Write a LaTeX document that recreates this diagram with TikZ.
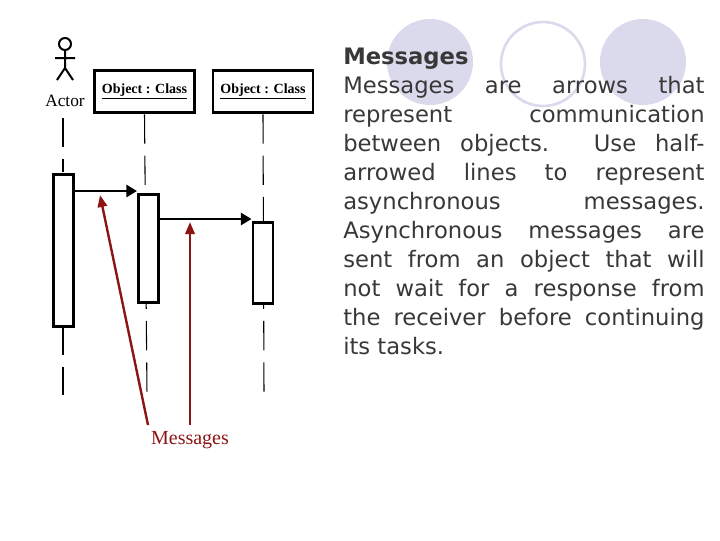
\documentclass[tikz,border=0pt]{standalone}
\usepackage{fontspec}
\newfontfamily\verd{DejaVu Sans}
\newfontfamily\bodyfont{Liberation Serif}
\usetikzlibrary{arrows.meta}
\definecolor{bubble}{RGB}{218,218,236}
\definecolor{msgred}{RGB}{140,20,20}
\tikzset{
  lifeline/.style={dash pattern=on 22pt off 9pt, line width=0.8pt},
  act/.style={draw, line width=2.2pt, fill=white},
  objbox/.style={draw, line width=2.2pt, minimum width=75pt, minimum height=32pt, font=\bodyfont\bfseries\fontsize{10.5}{12}\selectfont},
  msg/.style={line width=2.2pt, -{Triangle[length=8pt,width=9pt]}},
  redarrow/.style={draw=msgred, line width=1.8pt, -{Triangle[length=9pt,width=7pt]}, msgred}
}
\begin{document}
\begin{tikzpicture}[x=0.75pt,y=-0.75pt]
  \useasboundingbox (0,0) rectangle (720,540);
  % background bubbles
  \fill[bubble] (430,62) circle (43);
  \draw[bubble, line width=2pt] (543,64) circle (42);
  \fill[bubble] (643,62) circle (43);

  % actor
  \draw[line width=1.5pt] (65,44) circle (6);
  \draw[line width=1.5pt] (65,50) -- (65,68) (55,58) -- (75,58) (57,80) -- (65,68) -- (73,80);
  \node[font=\bodyfont\fontsize{13}{14}\selectfont] (actor) at (65,101) {Actor};

  % objects
  \node[objbox] (obja) at (144.5,91.5) {\underline{Object : Class}};
  \node[objbox] (objb) at (263,91.5) {\underline{Object : Class}};

  % lifelines
  \draw[lifeline, line width=1.2pt] (63,118) -- (63,172);
  \draw[lifeline, line width=1.2pt] (63,326) -- (63,395);
  \draw[lifeline] (obja.south) -- (147,395);
  \draw[lifeline] (objb.south) -- (264,395);

  % activations
  \node[act, minimum width=15pt, minimum height=114pt, anchor=north] (acta) at (63.5,173) {};
  \node[act, minimum width=15pt, minimum height=81pt, anchor=north] (actb) at (148.5,193) {};
  \node[act, minimum width=15pt, minimum height=61pt, anchor=north] (actc) at (263,221) {};

  % messages
  \draw[msg] (acta.east |- 0,191) -- (actb.west |- 0,191);
  \draw[msg] (actb.east |- 0,219) -- (actc.west |- 0,219);

  % callout
  \node[font=\bodyfont\fontsize{15}{16}\selectfont, text=msgred] (label) at (190,440) {Messages};
  \draw[redarrow] (148,425) -- (100,195);
  \draw[redarrow] (190,425) -- (190,222);

  % text
  \node[anchor=north west, inner sep=0pt, text width=271pt, align=justify, text=black!78,
        font=\verd\fontsize{17}{21.75}\selectfont] (body) at (343,48)
    {\hyphenpenalty=10000 {\bfseries Messages}\\ Messages are arrows that\linebreak
     represent communication\linebreak between objects. Use half-\linebreak
     arrowed lines to represent\linebreak asynchronous messages.\linebreak
     Asynchronous messages are\linebreak sent from an object that will\linebreak
     not wait for a response from\linebreak the receiver before continuing\linebreak
     its tasks.\par};
\end{tikzpicture}
\end{document}
